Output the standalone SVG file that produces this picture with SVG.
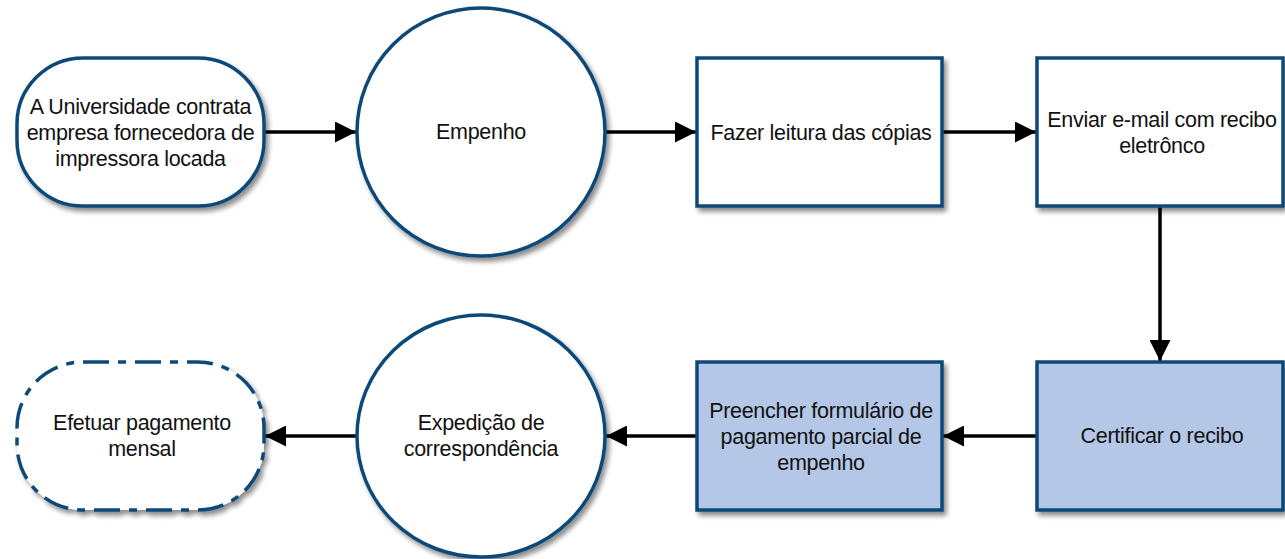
<svg xmlns="http://www.w3.org/2000/svg" width="1285" height="559" viewBox="0 0 1285 559">
<style>
.n{fill:#ffffff;stroke:#0d4a78;stroke-width:3.5;filter:url(#sh)}
.b{fill:#b4c7e7}
.d{stroke-dasharray:26 9 8 9}
.t{font-family:"Liberation Sans",Arial,sans-serif;font-size:21.5px;fill:#111;text-anchor:middle;letter-spacing:-0.3px}
.c{stroke:#000;stroke-width:3.5;fill:none;marker-end:url(#ah)}
</style>
<defs>
<filter id="sh" x="-10%" y="-10%" width="125%" height="125%">
<feGaussianBlur in="SourceAlpha" stdDeviation="2.5"/>
<feOffset dx="3" dy="4" result="o"/>
<feComponentTransfer><feFuncA type="linear" slope="0.45"/></feComponentTransfer>
<feMerge><feMergeNode/><feMergeNode in="SourceGraphic"/></feMerge>
</filter>
<marker id="ah" viewBox="0 0 10 10" refX="10" refY="5" markerWidth="6" markerHeight="6" markerUnits="strokeWidth" orient="auto">
<path d="M0,0 L10,5 L0,10 z" fill="#000"/>
</marker>
</defs>
<rect width="1285" height="559" fill="#fff"/>
<g id="connectors">
<line class="c" x1="264" y1="132" x2="356" y2="132"/>
<line class="c" x1="605" y1="132" x2="696" y2="132"/>
<line class="c" x1="942" y1="132" x2="1036" y2="132"/>
<line class="c" x1="1160" y1="206" x2="1160" y2="361"/>
<line class="c" x1="1037" y1="436" x2="943" y2="436"/>
<line class="c" x1="697" y1="436" x2="606" y2="436"/>
<line class="c" x1="357" y1="436" x2="265" y2="436"/>
</g>
<g id="n1">
<rect class="n" x="17" y="58" width="247" height="148" rx="66" ry="66"/>
<text class="t" x="140.5" y="114">A Universidade contrata</text>
<text class="t" x="140.5" y="140">empresa fornecedora de</text>
<text class="t" x="140.5" y="166">impressora locada</text>
</g>
<g id="n2">
<ellipse class="n" cx="481" cy="132" rx="124" ry="124"/>
<text class="t" x="481" y="139">Empenho</text>
</g>
<g id="n3">
<rect class="n" x="697" y="58" width="245" height="148"/>
<text class="t" x="821" y="140">Fazer leitura das cópias</text>
</g>
<g id="n4">
<rect class="n" x="1037" y="58" width="246" height="148"/>
<text class="t" x="1162" y="127">Enviar e-mail com recibo</text>
<text class="t" x="1162" y="153">eletrônco</text>
</g>
<g id="n5">
<rect class="n b" x="1037" y="362" width="246" height="148"/>
<text class="t" x="1162" y="443">Certificar o recibo</text>
</g>
<g id="n6">
<rect class="n b" x="697" y="362" width="245" height="148"/>
<text class="t" x="821" y="418">Preencher formulário de</text>
<text class="t" x="821" y="444">pagamento parcial de</text>
<text class="t" x="821" y="470">empenho</text>
</g>
<g id="n7">
<ellipse class="n" cx="481" cy="436" rx="124" ry="121"/>
<text class="t" x="481" y="430">Expedição de</text>
<text class="t" x="481" y="456">correspondência</text>
</g>
<g id="n8">
<rect class="n d" x="17" y="362" width="247" height="148" rx="66" ry="66"/>
<text class="t" x="142" y="430">Efetuar pagamento</text>
<text class="t" x="142" y="456">mensal</text>
</g>
</svg>
